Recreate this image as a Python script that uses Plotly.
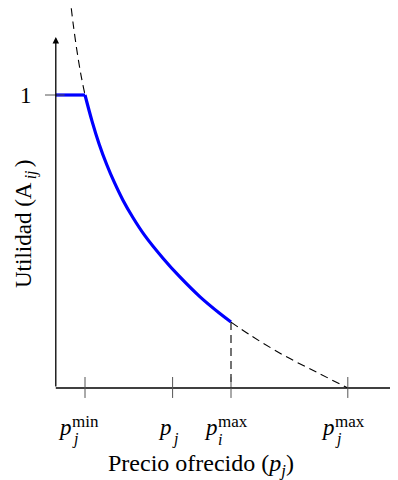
import plotly.graph_objects as go

# ---- data (axis units: price on x, utility on y) ----
upper_dash_x = [0.53, 0.60, 0.72, 0.85, 1.00]
upper_dash_y = [1.296, 1.239, 1.154, 1.075, 1.0]

flat_x = [0.0, 1.0]
flat_y = [1.0, 1.0]

util_x = [1.00, 1.24, 1.48, 1.75, 1.99, 2.30, 2.64, 3.05, 3.67, 4.25, 4.94, 5.62, 6.00]
util_y = [1.0, 0.911, 0.834, 0.761, 0.705, 0.641, 0.582, 0.520, 0.443, 0.379, 0.311, 0.254, 0.225]

lower_dash_x = [6.00, 6.65, 7.78, 8.95, 10.0]
lower_dash_y = [0.225, 0.181, 0.113, 0.053, 0.0]

tick_vals = [1, 4, 6, 10]
tick_base = ["p", "p", "p", "p"]
tick_sub = ["j", "j", "i", "j"]
tick_sup = ["min", "", "max", "max"]

ytick_vals = [1]
ytick_text = ["1"]

x_title = "Precio ofrecido (<i>p</i><sub><i>j</i></sub>)"
y_title = "Utilidad (A<sub>\u2009<i>ij</i>\u2009</sub>)"

FONT = "Liberation Serif"
FS = 23
FS_TITLE = 24
FS_SCRIPT = 16

# the page adds an 8 px body margin, so the figure is 8 px smaller each way
W, H, OFF = 390, 472, 8
X0PX, XUNIT = 55.8, 29.2      # page px of x=0, px per x unit
Y0PX, YUNIT = 388.0, 293.0    # page px of y=0, px per y unit
x_range = [(OFF - X0PX) / XUNIT, (OFF + W - X0PX) / XUNIT]
y_range = [(Y0PX - (OFF + H)) / YUNIT, (Y0PX - OFF) / YUNIT]


def px_paper(px, py):
    return (px - OFF) / W, 1 - (py - OFF) / H


fig = go.Figure()

dash = dict(color="black", width=1.1, dash="8px,5px")
fig.add_trace(go.Scatter(x=upper_dash_x, y=upper_dash_y, mode="lines",
                         line=dict(**dash, shape="spline"), hoverinfo="skip"))
fig.add_trace(go.Scatter(x=lower_dash_x, y=lower_dash_y, mode="lines",
                         line=dict(**dash, shape="spline"), hoverinfo="skip"))
fig.add_trace(go.Scatter(x=[util_x[-1], util_x[-1]], y=[util_y[-1], 0], mode="lines",
                         line=dash, hoverinfo="skip"))

shapes = []
shapes.append(dict(type="line", xref="x", yref="y", x0=0, x1=x_range[1], y0=0, y1=0,
                   line=dict(color="black", width=1.3)))
for v in tick_vals:
    shapes.append(dict(type="line", xref="x", yref="y", x0=v, x1=v, y0=0.0375, y1=-0.034,
                       line=dict(color="#555", width=1)))
for v in ytick_vals:
    shapes.append(dict(type="line", xref="x", yref="y", x0=-0.37, x1=0.3, y0=v, y1=v,
                       line=dict(color="#555", width=1)))
fig.update_layout(shapes=shapes)

fig.add_trace(go.Scatter(x=flat_x, y=flat_y, mode="lines",
                         line=dict(color="#0000ff", width=3.2), hoverinfo="skip"))
fig.add_trace(go.Scatter(x=util_x, y=util_y, mode="lines",
                         line=dict(color="#0000ff", width=3.2, shape="spline"), hoverinfo="skip"))

ann = []
ann.append(dict(x=0, y=1.198, ax=0, ay=0, xref="x", yref="y", axref="x", ayref="y",
                showarrow=True, arrowhead=2, arrowsize=1, arrowwidth=1.3, arrowcolor="black",
                text="", standoff=0, startstandoff=0))

for v, b, sb, sp in zip(tick_vals, tick_base, tick_sub, tick_sup):
    off = -13 if sp else -1
    ann.append(dict(x=v, y=0, xref="x", yref="y", text="<i>%s</i>" % b, showarrow=False,
                    xanchor="right", yanchor="middle", xshift=off + 2, yshift=-39,
                    font=dict(family=FONT, size=FS, color="black")))
    ann.append(dict(x=v, y=0, xref="x", yref="y", text="<i>%s</i>" % sb, showarrow=False,
                    xanchor="left", yanchor="middle", xshift=off - 1, yshift=-51,
                    borderpad=0, font=dict(family=FONT, size=FS_SCRIPT, color="black")))
    if sp:
        ann.append(dict(x=v, y=0, xref="x", yref="y", text=sp, showarrow=False,
                        xanchor="left", yanchor="middle", xshift=off - 1, yshift=-33,
                        borderpad=0, font=dict(family=FONT, size=FS_SCRIPT + 1, color="black")))

for v, t in zip(ytick_vals, ytick_text):
    ann.append(dict(x=0, y=v, xref="x", yref="y", text=t, showarrow=False,
                    xanchor="center", yanchor="middle", xshift=-30,
                    font=dict(family=FONT, size=FS, color="black")))

xt = px_paper(201, 465)
ann.append(dict(x=xt[0], y=xt[1], xref="paper", yref="paper", text=x_title,
                showarrow=False, xanchor="center", yanchor="middle",
                font=dict(family=FONT, size=FS_TITLE, color="black")))
yt = px_paper(25, 224)
ann.append(dict(x=yt[0], y=yt[1], xref="paper", yref="paper", text=y_title,
                showarrow=False, xanchor="center", yanchor="middle", textangle=-90,
                font=dict(family=FONT, size=FS, color="black")))

fig.update_layout(
    annotations=ann,
    width=W, height=H,
    margin=dict(l=0, r=0, t=0, b=0),
    paper_bgcolor="white", plot_bgcolor="white",
    showlegend=False,
    xaxis=dict(range=x_range, visible=False, fixedrange=True),
    yaxis=dict(range=y_range, visible=False, fixedrange=True),
)

fig.write_html("out.html")
